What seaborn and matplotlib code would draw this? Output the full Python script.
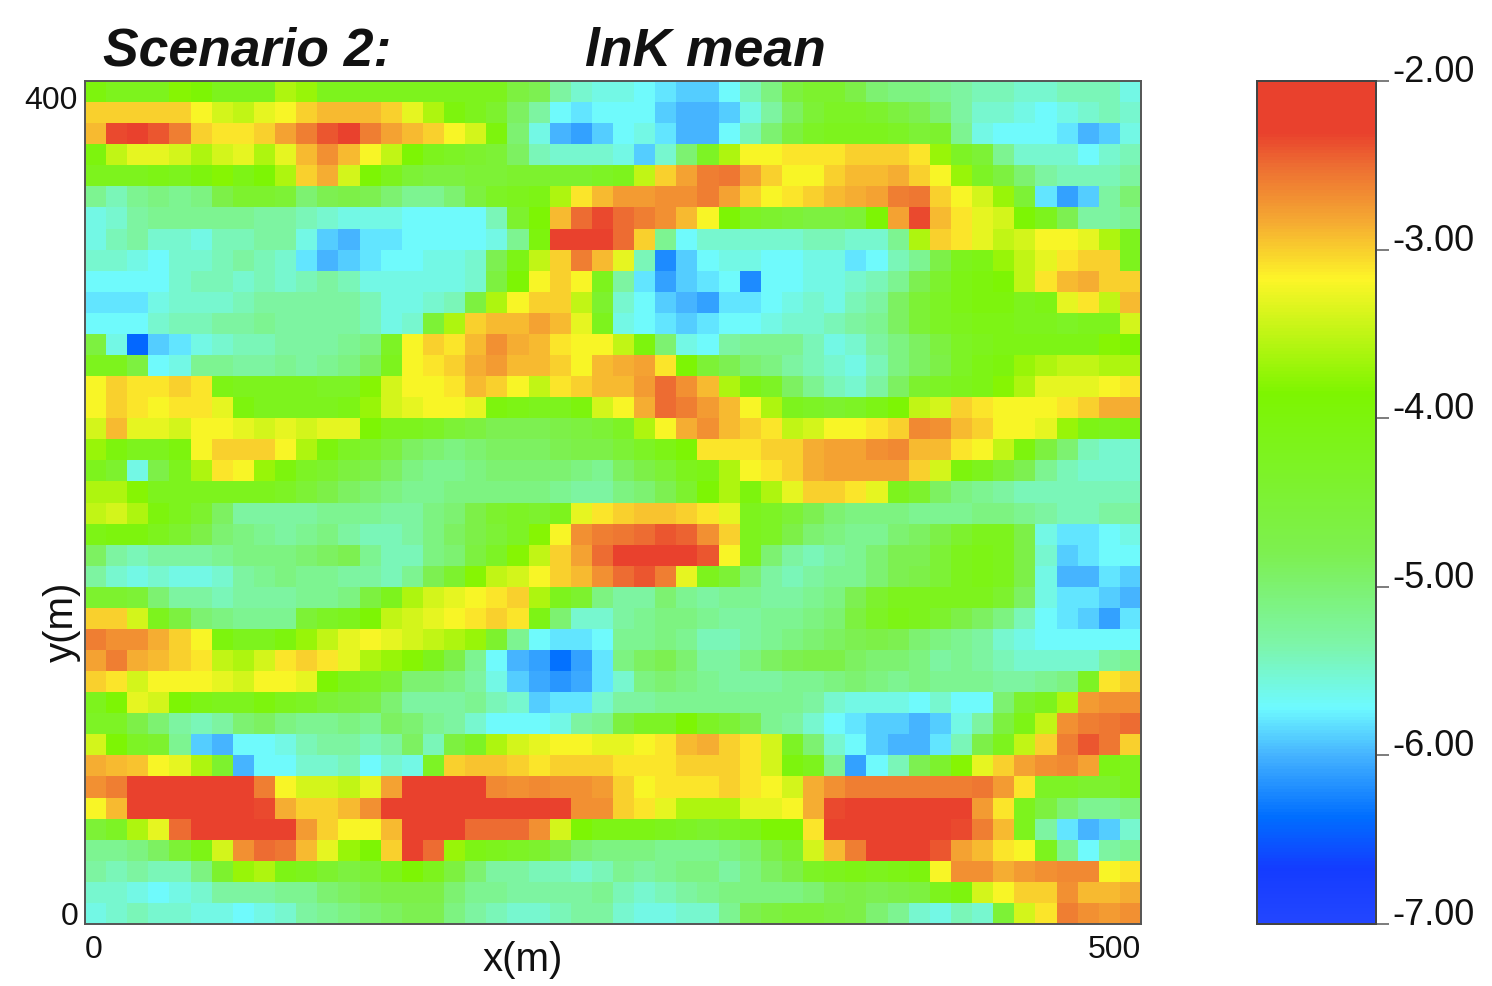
import numpy as np
import pandas as pd
import matplotlib
matplotlib.use('Agg')
import matplotlib.pyplot as plt
from matplotlib.colors import LinearSegmentedColormap
import seaborn as sns

# lnK mean, top row first, 50 columns x 40 rows
row_00 = [-4.0,-4.2,-4.2,-4.2,-3.8,-3.9,-4.2,-4.2,-4.2,-3.6,-3.7,-4.2,-4.2,-4.2,-4.2,-4.2,-4.2,-4.2,-4.2,-4.2,-4.6,-4.8,-5.3,-5.5,-5.6,-5.6,-5.7,-5.8,-5.9,-5.9,-5.7,-5.4,-5.1,-4.6,-4.4,-4.4,-4.7,-5.0,-5.1,-5.1,-5.2,-5.3,-5.4,-5.4,-5.5,-5.5,-5.4,-5.4,-5.4,-5.6]
row_01 = [-3.0,-3.0,-3.0,-3.0,-3.0,-3.2,-3.4,-3.5,-3.3,-3.2,-3.0,-2.9,-2.9,-2.9,-3.0,-3.3,-3.6,-4.0,-4.2,-4.4,-4.9,-5.3,-5.7,-5.8,-5.7,-5.7,-5.7,-5.9,-6.0,-6.0,-5.9,-5.6,-5.3,-4.9,-4.5,-4.3,-4.3,-4.4,-4.6,-4.8,-5.0,-5.3,-5.5,-5.5,-5.6,-5.7,-5.6,-5.5,-5.4,-5.5]
row_02 = [-2.9,-2.35,-2.3,-2.4,-2.6,-3.0,-3.1,-3.1,-3.0,-2.8,-2.6,-2.4,-2.25,-2.6,-2.8,-2.9,-3.0,-3.2,-3.4,-4.0,-5.0,-5.6,-6.0,-6.1,-5.9,-5.7,-5.6,-5.8,-6.0,-6.0,-5.7,-5.4,-5.0,-4.6,-4.3,-4.2,-4.2,-4.2,-4.3,-4.5,-4.4,-5.2,-5.6,-5.7,-5.7,-5.7,-5.8,-6.0,-5.9,-5.6]
row_03 = [-4.0,-3.5,-3.3,-3.3,-3.4,-3.6,-3.4,-3.3,-3.6,-3.3,-2.9,-2.7,-2.9,-3.2,-3.5,-3.9,-4.2,-4.3,-4.4,-4.5,-4.9,-5.4,-5.5,-5.5,-5.5,-5.6,-5.9,-5.5,-5.0,-4.3,-3.6,-3.2,-3.2,-3.1,-3.1,-3.1,-3.0,-3.0,-3.0,-3.1,-3.7,-4.3,-4.5,-5.2,-5.5,-5.5,-5.5,-5.7,-5.5,-5.4]
row_04 = [-4.2,-4.2,-4.2,-4.1,-4.2,-4.0,-3.8,-4.1,-3.9,-3.6,-3.0,-2.85,-3.4,-3.9,-4.2,-4.5,-4.6,-4.6,-4.5,-4.5,-4.4,-4.4,-4.4,-4.4,-4.3,-4.2,-3.5,-3.0,-2.8,-2.6,-2.55,-2.8,-3.0,-3.2,-3.2,-3.0,-2.9,-2.9,-2.85,-3.0,-3.2,-3.7,-4.3,-4.6,-5.0,-5.3,-5.4,-5.4,-5.4,-5.3]
row_05 = [-5.2,-5.4,-5.2,-5.1,-5.2,-5.1,-4.7,-4.4,-4.4,-4.5,-5.0,-4.8,-4.7,-4.8,-5.0,-5.2,-5.2,-5.0,-4.6,-4.3,-4.2,-4.1,-3.6,-3.1,-2.9,-2.75,-2.75,-2.7,-2.7,-2.6,-2.8,-3.0,-3.2,-3.1,-3.0,-2.9,-2.85,-2.8,-2.6,-2.55,-3.0,-3.2,-3.4,-3.7,-4.5,-5.8,-6.1,-5.9,-5.3,-5.0]
row_06 = [-5.6,-5.5,-5.3,-5.2,-5.2,-5.2,-5.2,-5.2,-5.3,-5.3,-5.4,-5.5,-5.6,-5.6,-5.6,-5.7,-5.7,-5.7,-5.7,-5.4,-4.4,-3.9,-2.9,-2.5,-2.35,-2.5,-2.6,-2.7,-2.9,-3.2,-3.9,-4.3,-4.4,-4.5,-4.6,-4.6,-4.5,-3.9,-2.8,-2.35,-2.9,-3.1,-3.3,-3.4,-3.9,-4.2,-4.8,-5.3,-5.3,-5.2]
row_07 = [-5.6,-5.4,-5.3,-5.5,-5.5,-5.6,-5.4,-5.4,-5.3,-5.3,-5.6,-5.9,-6.0,-5.8,-5.8,-5.7,-5.7,-5.7,-5.7,-5.6,-5.2,-4.0,-2.3,-2.2,-2.2,-2.5,-3.0,-5.2,-5.7,-5.5,-5.5,-5.5,-5.5,-5.5,-5.4,-5.4,-5.5,-5.5,-5.2,-3.6,-3.0,-3.1,-3.3,-3.5,-3.4,-3.2,-3.2,-3.3,-3.6,-4.2]
row_08 = [-5.5,-5.5,-5.6,-5.7,-5.5,-5.5,-5.4,-5.3,-5.4,-5.5,-5.8,-6.0,-5.9,-5.8,-5.7,-5.7,-5.6,-5.6,-5.5,-4.8,-4.1,-3.5,-3.0,-2.6,-2.9,-3.3,-5.4,-6.2,-5.9,-5.7,-5.6,-5.6,-5.7,-5.7,-5.6,-5.6,-5.8,-5.7,-5.4,-5.2,-4.7,-4.2,-4.1,-3.7,-3.5,-3.3,-3.1,-3.0,-3.0,-4.2]
row_09 = [-5.7,-5.7,-5.7,-5.7,-5.5,-5.4,-5.4,-5.5,-5.4,-5.5,-5.4,-5.3,-5.4,-5.6,-5.6,-5.6,-5.6,-5.6,-5.5,-4.6,-3.9,-3.2,-3.0,-3.2,-4.2,-5.3,-5.8,-6.1,-5.9,-5.8,-5.7,-6.2,-5.7,-5.7,-5.6,-5.6,-5.5,-5.4,-5.2,-4.8,-4.4,-4.1,-4.0,-3.9,-3.5,-3.1,-2.9,-2.85,-3.0,-3.0]
row_10 = [-5.8,-5.8,-5.8,-5.6,-5.5,-5.5,-5.5,-5.4,-5.3,-5.3,-5.3,-5.3,-5.3,-5.4,-5.6,-5.6,-5.5,-5.4,-4.6,-3.6,-3.2,-3.0,-3.0,-3.5,-4.4,-5.5,-5.7,-5.9,-6.0,-6.1,-5.8,-5.8,-5.7,-5.6,-5.5,-5.6,-5.4,-5.3,-4.9,-4.5,-4.3,-4.1,-4.0,-4.0,-4.2,-4.1,-3.3,-3.1,-3.5,-2.9]
row_11 = [-5.7,-5.7,-5.7,-5.5,-5.4,-5.4,-5.3,-5.3,-5.2,-5.3,-5.3,-5.3,-5.3,-5.4,-5.6,-5.5,-4.5,-3.6,-3.0,-2.9,-2.9,-2.8,-2.9,-3.3,-4.2,-5.6,-5.7,-5.8,-5.9,-5.8,-5.7,-5.7,-5.6,-5.5,-5.5,-5.4,-5.3,-5.2,-4.9,-4.5,-4.3,-4.2,-4.1,-4.1,-4.2,-4.2,-4.3,-4.2,-4.2,-3.4]
row_12 = [-4.6,-5.6,-6.4,-5.9,-5.8,-5.6,-5.5,-5.4,-5.4,-5.3,-5.3,-5.3,-5.2,-5.1,-4.3,-3.2,-3.0,-3.1,-2.9,-2.7,-2.85,-2.9,-3.1,-3.2,-3.2,-3.5,-4.0,-5.0,-5.6,-5.7,-5.3,-5.2,-5.2,-5.2,-5.4,-5.6,-5.5,-5.3,-5.1,-4.9,-4.6,-4.3,-4.2,-4.1,-4.1,-4.1,-4.1,-4.1,-3.8,-3.9]
row_13 = [-4.2,-4.2,-4.6,-5.7,-5.6,-5.2,-5.2,-5.3,-5.3,-5.2,-5.3,-5.2,-5.1,-4.9,-4.2,-3.2,-3.1,-3.0,-2.85,-2.75,-2.9,-2.9,-3.0,-3.2,-2.9,-2.85,-2.8,-3.1,-3.9,-4.5,-4.8,-5.0,-5.1,-5.3,-5.4,-5.5,-5.6,-5.4,-5.1,-4.9,-4.7,-4.3,-4.1,-4.0,-3.7,-3.6,-3.5,-3.5,-3.6,-3.6]
row_14 = [-3.2,-3.0,-3.1,-3.1,-3.0,-3.1,-4.1,-4.2,-4.2,-4.2,-4.2,-4.3,-4.3,-3.8,-3.4,-3.2,-3.2,-3.1,-2.9,-3.0,-3.2,-3.5,-3.1,-3.0,-2.9,-2.9,-2.75,-2.5,-2.7,-2.9,-3.6,-4.1,-4.3,-4.9,-5.2,-5.4,-5.5,-5.3,-4.9,-4.4,-4.3,-4.2,-4.1,-3.8,-3.6,-3.3,-3.3,-3.3,-3.2,-3.1]
row_15 = [-3.2,-3.0,-3.1,-3.2,-3.1,-3.1,-3.3,-4.0,-4.2,-4.2,-4.2,-4.2,-4.1,-3.7,-3.4,-3.3,-3.2,-3.2,-3.3,-4.0,-4.1,-4.2,-4.2,-4.0,-3.4,-3.2,-2.85,-2.5,-2.6,-2.75,-2.9,-3.2,-3.6,-4.2,-4.3,-4.4,-4.3,-4.1,-3.9,-3.5,-3.4,-3.0,-3.1,-3.2,-3.2,-3.2,-3.1,-3.0,-2.85,-2.85]
row_16 = [-3.4,-2.9,-3.3,-3.3,-3.4,-3.2,-3.2,-3.3,-3.4,-3.3,-3.4,-3.3,-3.3,-3.9,-4.2,-4.2,-4.3,-4.5,-4.6,-4.8,-4.8,-4.8,-4.7,-4.6,-4.5,-4.3,-3.6,-3.2,-2.85,-2.7,-2.9,-3.0,-3.1,-3.5,-3.4,-3.2,-3.2,-3.1,-3.0,-2.65,-2.7,-2.9,-3.0,-3.2,-3.2,-3.3,-3.7,-4.1,-4.2,-4.1]
row_17 = [-3.7,-4.0,-4.2,-4.2,-4.0,-3.2,-3.0,-3.0,-3.0,-3.2,-3.6,-4.0,-4.3,-4.4,-4.6,-4.9,-5.0,-5.1,-5.0,-4.9,-4.9,-4.9,-4.8,-4.7,-4.7,-4.5,-4.3,-4.1,-3.9,-3.1,-3.1,-3.1,-3.0,-3.0,-2.85,-2.8,-2.8,-2.7,-2.65,-2.9,-2.9,-3.1,-3.2,-3.5,-4.0,-4.6,-5.0,-5.4,-5.5,-5.5]
row_18 = [-4.2,-4.4,-5.6,-4.7,-4.2,-3.6,-3.1,-3.2,-3.7,-4.0,-4.3,-4.4,-4.6,-4.7,-4.9,-5.1,-5.2,-5.2,-5.1,-5.0,-5.0,-5.0,-5.0,-5.1,-5.2,-4.9,-4.7,-4.5,-4.2,-4.1,-3.6,-3.2,-3.1,-3.0,-2.85,-2.8,-2.8,-2.8,-2.8,-3.0,-3.4,-4.0,-4.2,-4.5,-4.8,-5.2,-5.4,-5.5,-5.5,-5.5]
row_19 = [-3.6,-3.6,-3.8,-4.2,-4.2,-4.2,-4.2,-4.2,-4.2,-4.3,-4.5,-4.7,-4.9,-5.0,-5.1,-5.2,-5.2,-5.1,-5.1,-5.1,-5.1,-5.1,-5.2,-5.3,-5.3,-5.1,-5.0,-4.8,-4.4,-3.9,-3.6,-4.0,-3.6,-3.3,-3.0,-3.0,-3.1,-3.3,-4.2,-4.4,-4.9,-5.1,-5.2,-5.3,-5.4,-5.4,-5.4,-5.4,-5.4,-5.4]
row_20 = [-3.5,-3.4,-3.6,-4.0,-4.2,-4.4,-4.9,-5.3,-5.3,-5.3,-5.3,-5.2,-5.2,-5.2,-5.3,-5.3,-5.1,-5.0,-4.7,-4.4,-4.3,-4.4,-4.2,-3.3,-3.1,-3.0,-2.95,-2.95,-3.0,-3.1,-3.3,-4.2,-4.3,-4.5,-4.8,-5.0,-5.1,-5.1,-5.1,-5.2,-5.2,-5.2,-5.1,-5.1,-5.2,-5.3,-5.4,-5.4,-5.3,-5.3]
row_21 = [-4.1,-4.0,-4.0,-4.2,-4.4,-4.7,-5.0,-5.1,-5.2,-5.3,-5.2,-5.1,-5.3,-5.4,-5.4,-5.3,-5.1,-4.9,-4.7,-4.5,-4.3,-3.8,-3.2,-2.7,-2.6,-2.55,-2.5,-2.4,-2.45,-2.7,-3.0,-4.2,-4.3,-4.7,-5.0,-5.1,-5.2,-5.2,-5.0,-4.9,-4.7,-4.4,-4.2,-4.2,-4.7,-5.6,-5.8,-5.8,-5.7,-5.6]
row_22 = [-4.9,-5.3,-5.4,-5.3,-5.3,-5.3,-5.2,-5.1,-5.1,-5.1,-5.0,-4.9,-4.8,-5.2,-5.4,-5.4,-5.1,-5.0,-4.6,-4.3,-3.8,-3.5,-3.0,-2.8,-2.5,-2.25,-2.2,-2.2,-2.2,-2.4,-3.2,-4.2,-5.0,-5.3,-5.4,-5.3,-5.2,-5.0,-4.8,-4.8,-4.5,-4.2,-4.1,-4.2,-4.7,-5.5,-5.9,-5.8,-5.7,-5.7]
row_23 = [-5.3,-5.5,-5.6,-5.5,-5.6,-5.6,-5.5,-5.3,-5.2,-5.1,-5.2,-5.2,-5.3,-5.3,-5.4,-5.2,-4.8,-4.4,-3.8,-3.5,-3.4,-3.2,-3.0,-2.9,-2.7,-2.5,-2.4,-2.6,-3.3,-4.2,-4.5,-5.0,-5.3,-5.4,-5.3,-5.2,-5.2,-5.0,-4.8,-4.7,-4.5,-4.2,-4.1,-4.2,-4.7,-5.6,-6.0,-6.0,-5.8,-5.9]
row_24 = [-4.4,-4.4,-4.5,-5.0,-5.3,-5.3,-5.4,-5.3,-5.3,-5.3,-5.2,-5.2,-5.1,-4.6,-4.2,-3.6,-3.4,-3.3,-3.2,-3.1,-3.0,-3.6,-4.2,-4.4,-5.1,-5.3,-5.3,-5.0,-5.2,-5.3,-5.2,-5.2,-5.3,-5.3,-5.2,-5.1,-4.8,-4.4,-4.2,-4.2,-4.2,-4.2,-4.2,-4.4,-4.9,-5.6,-5.8,-5.8,-5.9,-6.0]
row_25 = [-3.0,-3.0,-3.4,-4.2,-4.6,-5.0,-5.1,-5.2,-5.2,-5.2,-4.5,-4.3,-4.2,-3.9,-3.5,-3.4,-3.3,-3.2,-3.1,-3.0,-3.1,-4.1,-5.0,-5.5,-5.5,-5.3,-5.2,-5.1,-5.1,-5.2,-5.3,-5.3,-5.2,-5.2,-5.1,-5.0,-4.6,-4.3,-4.1,-4.2,-4.4,-4.7,-4.9,-5.1,-5.4,-5.7,-5.8,-5.9,-6.1,-5.8]
row_26 = [-2.6,-2.7,-2.7,-2.85,-3.0,-3.2,-4.0,-4.2,-4.2,-4.0,-3.7,-3.5,-3.3,-3.2,-3.3,-3.4,-3.5,-3.6,-3.7,-4.4,-5.2,-5.7,-5.8,-5.8,-5.7,-5.2,-5.2,-5.1,-5.2,-5.4,-5.4,-5.3,-5.2,-5.1,-5.0,-4.9,-4.8,-4.7,-4.8,-5.0,-5.1,-5.2,-5.3,-5.5,-5.6,-5.7,-5.7,-5.7,-5.7,-5.7]
row_27 = [-2.8,-2.6,-2.85,-2.9,-3.0,-3.1,-3.5,-3.6,-3.4,-3.1,-3.0,-3.1,-3.3,-3.6,-3.7,-3.8,-4.2,-4.7,-5.2,-5.7,-6.0,-6.1,-6.35,-6.1,-5.8,-5.1,-4.9,-4.8,-5.0,-5.3,-5.3,-5.1,-4.9,-4.8,-4.7,-4.7,-4.9,-5.0,-5.0,-5.1,-5.3,-5.2,-5.3,-5.4,-5.5,-5.5,-5.5,-5.5,-5.3,-5.2]
row_28 = [-3.0,-3.1,-3.4,-3.2,-3.2,-3.2,-3.3,-3.4,-3.2,-3.2,-3.3,-3.9,-4.2,-4.3,-4.5,-5.0,-5.0,-5.1,-5.3,-5.6,-5.9,-6.05,-6.15,-6.05,-5.8,-5.5,-5.1,-5.0,-5.1,-5.2,-5.3,-5.3,-5.3,-5.2,-5.2,-5.1,-5.0,-5.1,-5.2,-5.1,-5.2,-5.2,-5.2,-5.3,-5.3,-5.2,-5.1,-4.3,-3.1,-3.0]
row_29 = [-4.2,-3.9,-3.3,-3.4,-3.9,-4.1,-4.2,-4.2,-4.0,-4.2,-4.3,-4.5,-4.6,-4.7,-5.0,-5.3,-5.3,-5.3,-5.2,-5.4,-5.5,-5.9,-5.8,-5.8,-5.5,-5.3,-5.3,-5.2,-5.2,-5.2,-5.2,-5.2,-5.2,-5.2,-5.3,-5.5,-5.6,-5.6,-5.6,-5.7,-5.5,-5.7,-5.7,-5.0,-4.4,-4.2,-3.6,-2.75,-2.7,-2.7]
row_30 = [-4.3,-4.3,-4.7,-5.0,-5.3,-5.4,-5.3,-5.0,-4.9,-5.1,-5.2,-5.2,-5.1,-5.2,-4.9,-5.0,-5.2,-5.3,-5.5,-5.7,-5.7,-5.7,-5.6,-5.3,-5.2,-4.6,-4.3,-4.3,-3.9,-4.3,-4.5,-4.8,-5.2,-5.3,-5.5,-5.7,-5.8,-5.9,-5.9,-6.0,-5.9,-5.6,-5.3,-4.6,-4.1,-3.5,-2.7,-2.6,-2.55,-2.5]
row_31 = [-3.4,-3.9,-4.3,-4.4,-5.2,-5.9,-6.0,-5.7,-5.7,-5.6,-5.4,-5.3,-5.3,-5.4,-5.3,-4.9,-5.4,-4.6,-4.3,-3.6,-3.4,-3.3,-3.2,-3.2,-3.3,-3.3,-3.2,-3.1,-2.9,-2.85,-3.0,-3.1,-3.4,-4.3,-5.0,-5.5,-5.7,-5.9,-6.0,-6.0,-5.8,-5.4,-4.7,-4.2,-3.5,-3.0,-2.6,-2.4,-2.55,-3.0]
row_32 = [-2.85,-2.9,-2.95,-3.2,-3.3,-3.6,-4.4,-6.0,-5.7,-5.7,-5.5,-5.5,-5.4,-5.7,-5.5,-5.6,-4.3,-3.0,-2.95,-2.95,-3.0,-3.1,-3.0,-3.0,-3.0,-3.1,-3.1,-3.1,-3.0,-3.0,-3.0,-3.1,-3.4,-4.0,-4.2,-5.2,-6.1,-5.7,-5.4,-4.8,-4.4,-3.8,-3.3,-3.0,-2.8,-2.7,-2.65,-2.8,-4.1,-4.2]
row_33 = [-2.7,-2.6,-2.25,-2.2,-2.2,-2.2,-2.2,-2.25,-2.6,-3.2,-3.4,-3.4,-3.5,-3.3,-2.8,-2.3,-2.2,-2.2,-2.3,-2.65,-2.7,-2.65,-2.7,-2.7,-2.75,-3.0,-3.2,-3.1,-3.1,-3.1,-3.0,-3.1,-3.2,-3.4,-2.85,-2.7,-2.6,-2.6,-2.6,-2.6,-2.6,-2.6,-2.55,-2.75,-3.1,-4.3,-4.3,-4.4,-4.4,-4.2]
row_34 = [-3.2,-2.9,-2.25,-2.2,-2.2,-2.2,-2.2,-2.3,-2.35,-2.85,-3.0,-3.0,-2.9,-2.7,-2.3,-2.2,-2.2,-2.2,-2.2,-2.2,-2.2,-2.2,-2.3,-2.7,-2.7,-3.0,-3.1,-3.3,-3.6,-3.6,-3.6,-3.3,-3.3,-3.2,-2.85,-2.35,-2.25,-2.2,-2.2,-2.2,-2.2,-2.3,-2.75,-3.1,-4.2,-4.6,-5.0,-5.2,-5.2,-5.1]
row_35 = [-4.5,-4.3,-3.6,-3.3,-2.5,-2.2,-2.2,-2.2,-2.2,-2.3,-2.75,-3.0,-3.2,-3.2,-2.9,-2.2,-2.2,-2.2,-2.5,-2.5,-2.5,-2.7,-3.4,-3.9,-4.1,-4.1,-4.1,-4.2,-4.3,-4.4,-4.3,-4.2,-3.9,-3.9,-3.1,-2.3,-2.2,-2.2,-2.2,-2.2,-2.2,-2.35,-2.6,-2.9,-4.2,-5.3,-5.8,-6.0,-5.9,-5.5]
row_36 = [-5.2,-5.2,-5.1,-4.9,-4.5,-4.1,-3.4,-2.7,-2.5,-2.55,-2.9,-3.3,-3.7,-3.9,-3.0,-2.25,-2.5,-3.7,-4.1,-4.2,-4.3,-4.4,-4.7,-5.0,-5.1,-5.1,-5.1,-5.2,-5.2,-5.2,-5.1,-5.0,-4.7,-4.4,-3.4,-2.9,-2.6,-2.3,-2.2,-2.2,-2.4,-2.8,-2.9,-3.1,-3.2,-4.2,-5.2,-5.7,-5.3,-5.2]
row_37 = [-5.3,-5.4,-5.3,-5.4,-5.4,-5.1,-4.4,-3.7,-3.6,-4.1,-4.2,-4.4,-4.6,-4.5,-4.2,-3.9,-4.2,-4.6,-5.0,-5.3,-5.3,-5.4,-5.4,-5.5,-5.4,-5.2,-5.3,-5.2,-5.1,-5.1,-5.3,-5.1,-4.9,-4.7,-4.3,-4.2,-4.1,-4.2,-4.1,-4.0,-3.2,-2.7,-2.7,-2.85,-2.75,-2.7,-2.65,-2.65,-3.2,-3.1]
row_38 = [-5.5,-5.5,-5.6,-5.7,-5.6,-5.5,-5.3,-5.3,-5.3,-5.2,-5.2,-5.0,-4.9,-4.8,-4.7,-4.7,-4.7,-5.0,-5.2,-5.2,-5.3,-5.3,-5.3,-5.3,-5.2,-5.4,-5.5,-5.4,-5.3,-5.2,-5.1,-5.1,-5.1,-5.1,-5.0,-4.8,-4.7,-4.8,-4.7,-4.6,-4.2,-4.0,-3.4,-3.2,-3.0,-3.0,-2.7,-2.9,-2.9,-2.85]
row_39 = [-5.6,-5.5,-5.4,-5.5,-5.5,-5.6,-5.6,-5.7,-5.6,-5.5,-5.3,-5.2,-5.1,-5.0,-4.9,-4.8,-4.8,-5.1,-5.3,-5.4,-5.5,-5.5,-5.4,-5.3,-5.3,-5.5,-5.6,-5.6,-5.5,-5.5,-5.2,-4.8,-4.6,-4.5,-4.5,-4.6,-4.7,-5.0,-5.2,-5.5,-5.6,-5.4,-5.5,-4.5,-3.4,-3.1,-2.6,-2.7,-2.75,-2.7]

rows = [row_00, row_01, row_02, row_03, row_04, row_05, row_06, row_07, row_08, row_09,
        row_10, row_11, row_12, row_13, row_14, row_15, row_16, row_17, row_18, row_19,
        row_20, row_21, row_22, row_23, row_24, row_25, row_26, row_27, row_28, row_29,
        row_30, row_31, row_32, row_33, row_34, row_35, row_36, row_37, row_38, row_39]

cbar_ticks = [-7, -6, -5, -4, -3, -2]
cbar_labels = ['-7.00', '-6.00', '-5.00', '-4.00', '-3.00', '-2.00']

# colour bar stops, value then rgb
stop_values = [-7.0, -6.68, -6.37, -6.0, -5.72, -5.35, -4.8, -3.85, -3.17, -2.83, -2.5, -2.3, -2.0]
stop_colors = [(35, 70, 255), (20, 60, 255), (0, 110, 255), (70, 180, 255), (110, 250, 255),
               (125, 245, 170), (125, 240, 80), (125, 245, 0), (253, 245, 40), (245, 170, 50),
               (237, 110, 50), (233, 65, 45), (233, 65, 45)]

sns.set_theme(style='white')
plt.rcParams['font.family'] = ['Liberation Sans', 'DejaVu Sans']
plt.rcParams['axes.unicode_minus'] = False

W, H = 1492, 987
fig = plt.figure(figsize=(W / 100, H / 100), dpi=100)
ax = fig.add_axes([85 / W, 1 - 925 / H, 1056 / W, 843 / H])
cax = fig.add_axes([1257 / W, 1 - 925 / H, 119 / W, 843 / H])

cmap = LinearSegmentedColormap.from_list(
    'lnk', [((v + 7) / 5, tuple(c / 255 for c in rgb)) for v, rgb in zip(stop_values, stop_colors)], N=256)

df = pd.DataFrame(rows)
sns.heatmap(df, ax=ax, cbar_ax=cax, cmap=cmap, vmin=-7, vmax=-2,
            xticklabels=False, yticklabels=False, cbar_kws={'ticks': cbar_ticks})

# main axes
for s in ax.spines.values():
    s.set_visible(True)
    s.set_color('#555555')
    s.set_linewidth(1.4)
ax.set_xticks([0, df.shape[1]], ['0', '500'])
ax.set_yticks([0.2, df.shape[0]], ['400', '0'])
ax.tick_params(axis='both', length=0, labelsize=23, colors='#111111')
ax.tick_params(axis='x', pad=7)
ax.tick_params(axis='y', pad=5, labelrotation=0)
xl = ax.get_xticklabels()
xl[0].set_ha('left')
xl[1].set_ha('right')
yl = ax.get_yticklabels()
yl[0].set_va('top')
yl[1].set_va('baseline')
ax.set_xlabel('x(m)', fontsize=29, color='#111111', va='center')
ax.xaxis.set_label_coords((523 - 85) / 1056, -(960 - 925) / 843)
ax.set_ylabel('y(m)', fontsize=29, color='#111111', va='center')
ax.yaxis.set_label_coords(-(85 - 62) / 1056, (925 - 622) / 843)

# colour bar
cax.set_yticks(cbar_ticks, cbar_labels)
cax.tick_params(axis='y', right=True, left=False, labelright=True, labelleft=False, length=9,
                width=1.2, color='#666666', pad=3, labelsize=26, labelcolor='#111111')
for t in cax.get_yticklabels():
    t.set_va('baseline')
for s in cax.spines.values():
    s.set_visible(True)
    s.set_color('#444444')
    s.set_linewidth(1.4)

fig.text(103 / W, 1 - 65 / H, 'Scenario 2:', fontsize=38.5, fontweight='bold', fontstyle='italic', color='#111111')
fig.text(585 / W, 1 - 65 / H, 'lnK mean', fontsize=38.5, fontweight='bold', fontstyle='italic', color='#111111')

fig.savefig('out.png', dpi=100)
